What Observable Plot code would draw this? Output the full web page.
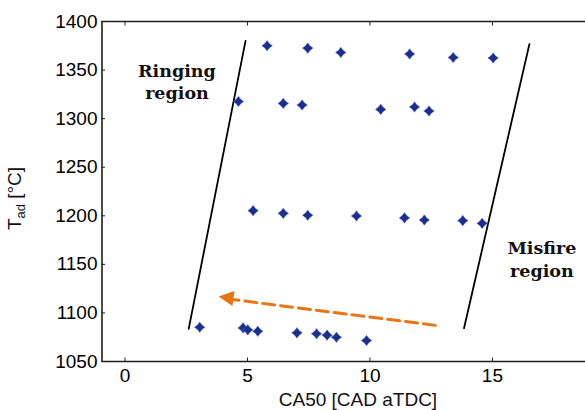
<!DOCTYPE html>
<html>
<head>
<meta charset="utf-8">
<script src="https://cdn.jsdelivr.net/npm/d3@7"></script>
<script src="https://cdn.jsdelivr.net/npm/@observablehq/plot@0.6"></script>
<style>
  html, body { margin: 0; padding: 0; background: #fff; overflow: hidden; }
  #chart { width: 585px; height: 410px; }
</style>
</head>
<body>
<div id="chart"></div>
<script>
// Measured operating points: CA50 [CAD aTDC] vs T_ad [°C]
const caX = [
  5.80, 7.46, 8.81, 11.62, 13.40, 15.03,
  4.63, 6.46, 7.23, 10.44, 11.82, 12.41,
  5.23, 6.46, 7.46, 9.45, 11.41, 12.22, 13.79, 14.58,
  3.05, 4.82, 5.01, 5.42, 7.02, 7.82, 8.25, 8.63, 9.86
];
const tadY = [
  1375.0, 1372.6, 1368.1, 1366.5, 1363.0, 1362.4,
  1317.7, 1315.7, 1314.0, 1309.5, 1312.0, 1307.8,
  1205.3, 1202.5, 1200.5, 1199.8, 1197.8, 1195.7, 1195.0, 1192.2,
  1085.3, 1084.6, 1082.6, 1081.2, 1079.5, 1078.5, 1077.1, 1075.0, 1071.6
];

// Region boundaries
const ringingBoundX = [2.60, 4.92];
const ringingBoundY = [1083.6, 1380.1];
const misfireBoundX = [13.84, 16.51];
const misfireBoundY = [1084.3, 1376.7];

// Orange trend arrow (shaft from right to left, then head tip)
const arrowX = [12.67, 4.45];
const arrowY = [1087.2, 1113.6];
const arrowTipX = [3.82];
const arrowTipY = [1116.9];

// Region labels
const labelText = ["Ringing", "region", "Misfire", "region"];
const labelX = [2.12, 2.12, 17.02, 17.02];
const labelY = [1343.1, 1320.5, 1161.1, 1137.0];

// Axis ticks
const xTicks = [0, 5, 10, 15];
const yTicks = [1050, 1100, 1150, 1200, 1250, 1300, 1350, 1400];
const xLabel = "CA50 [CAD aTDC]";

const points = caX.map((x, i) => ({x, y: tadY[i]}));
const ringing = ringingBoundX.map((x, i) => ({x, y: ringingBoundY[i]}));
const misfire = misfireBoundX.map((x, i) => ({x, y: misfireBoundY[i]}));
const arrow = arrowX.map((x, i) => ({x, y: arrowY[i]}));
const tip = arrowTipX.map((x, i) => ({x, y: arrowTipY[i]}));
const labels = labelText.map((t, i) => ({t, x: labelX[i], y: labelY[i]}));

const star4 = {
  draw(ctx, size) {
    const r = 5.3, w = 2.3;
    ctx.moveTo(0, -r); ctx.lineTo(w, -w); ctx.lineTo(r, 0); ctx.lineTo(w, w);
    ctx.lineTo(0, r); ctx.lineTo(-w, w); ctx.lineTo(-r, 0); ctx.lineTo(-w, -w);
    ctx.closePath();
  }
};
const headLeft = {
  draw(ctx, size) {
    ctx.moveTo(0, 0); ctx.lineTo(15, -7.5); ctx.lineTo(15, 7.5); ctx.closePath();
  }
};

const axisColor = "#1e1e1e";
const font = "'Liberation Sans', Arial, sans-serif";
const fmt = d3.format("d");

const plot = Plot.plot({
  width: 585,
  height: 410,
  marginLeft: 101.5,
  marginRight: 0,
  marginTop: 21,
  marginBottom: 49,
  style: {fontFamily: font, fontSize: "19px", color: "#000", background: "#fff"},
  x: {domain: [-0.94, 18.8]},
  y: {domain: [1050, 1400]},
  marks: [
    Plot.axisX({ticks: xTicks, anchor: "bottom", tickSize: -3.5, tickPadding: 10.5, tickFormat: fmt, label: null, stroke: axisColor, fontSize: "19px"}),
    Plot.axisX({ticks: xTicks, anchor: "top", tickSize: -3.5, text: null, label: null, stroke: axisColor}),
    Plot.axisY({ticks: yTicks, anchor: "left", tickSize: -3.5, tickPadding: 8, tickFormat: fmt, label: null, stroke: axisColor, fontSize: "19px"}),
    Plot.ruleY([1050], {stroke: axisColor, strokeWidth: 1.6}),
    Plot.ruleY([1400], {stroke: axisColor, strokeWidth: 1.6}),
    Plot.ruleX([-0.94], {stroke: axisColor, strokeWidth: 1.6}),
    Plot.line(ringing, {x: "x", y: "y", stroke: "#000", strokeWidth: 1.8}),
    Plot.line(misfire, {x: "x", y: "y", stroke: "#000", strokeWidth: 1.8}),
    Plot.line(arrow, {x: "x", y: "y", stroke: "#ea7414", strokeWidth: 3, strokeDasharray: "12,6"}),
    Plot.dot(tip, {x: "x", y: "y", symbol: headLeft, r: 5, fill: "#ea7414", stroke: "none", rotate: 7.6}),
    Plot.dot(points, {x: "x", y: "y", symbol: star4, r: 5, fill: "#1b2f91", stroke: "#6478c8", strokeWidth: 0.8, strokeOpacity: 0.55}),
    Plot.text(labels, {x: "x", y: "y", text: "t", lineAnchor: "bottom", fontFamily: "'DejaVu Serif', serif", fontWeight: "bold", fontSize: 17.5, fill: "#111"}),
    Plot.text([xLabel], {x: () => 9.51, y: () => 1050, text: d => d, dy: 44, lineAnchor: "bottom", fontSize: 19, fill: "#111"})
  ]
});

// Y-axis title with subscript
const svg = d3.select(plot);
const yt = svg.append("text")
  .attr("transform", "translate(20.5,198.5) rotate(-90)")
  .attr("text-anchor", "middle")
  .attr("font-family", font)
  .attr("font-size", 19)
  .attr("fill", "#111");
yt.append("tspan").text("T");
yt.append("tspan").attr("font-size", 13).attr("dy", 4).text("ad");
yt.append("tspan").attr("dy", -4).text(" [°C]");

document.getElementById("chart").appendChild(plot);
</script>
</body>
</html>
